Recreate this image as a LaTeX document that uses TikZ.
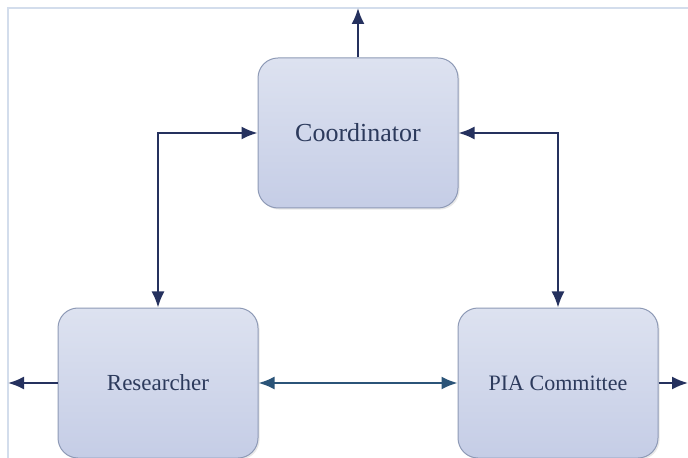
\documentclass[tikz,border=0pt]{standalone}
\usepackage{fontspec}
\setmainfont{Liberation Serif}
\usetikzlibrary{arrows.meta,shadows}
\definecolor{navy}{HTML}{25315E}
\definecolor{teal}{HTML}{2B5478}
\definecolor{boxtop}{HTML}{DDE2F0}
\definecolor{boxbot}{HTML}{C5CDE6}
\definecolor{boxline}{HTML}{8E9AB6}
\definecolor{frameline}{HTML}{D3DDEC}
\definecolor{textcol}{HTML}{2C3A5C}
\tikzset{
	block/.style={draw=boxline, line width=0.5pt, rounded corners=10pt,
		top color=boxtop, bottom color=boxbot,
		minimum width=100pt, minimum height=75pt, text=textcol,
		drop shadow={shadow xshift=0.8pt, shadow yshift=-0.8pt, opacity=0.18}},
	link/.style={draw=navy, line width=1pt, -{Latex[length=8pt,width=6.5pt]}},
	twoway/.style={link, {Latex[length=8pt,width=6.5pt]}-{Latex[length=8pt,width=6.5pt]}}
}

\begin{document}
\begin{tikzpicture}[x={(0.5pt,0mm)},y={(0mm,-0.5pt)}]
	\useasboundingbox (0,0) rectangle (688,458);
	\draw[frameline, line width=1pt] (8,458) -- (8,8) -- (688,8);
	
	\node[block, font=\fontsize{13}{15}\selectfont] (coord) at (358,133) {Coordinator};
	\node[block, font=\fontsize{11.5}{14}\selectfont] (res) at (158,383) {Researcher};
	\node[block, font=\fontsize{11}{14}\selectfont] (pia) at (558,383) {PIA Committee};
	
	\coordinate (up) at (358,8);
	\coordinate (outl) at (8,383);
	\coordinate (outr) at (688,383);
	
	\draw[link] (coord.north) -- (up);
	\draw[twoway] (coord.west) -| (res.north);
	\draw[twoway] (coord.east) -| (pia.north);
	\draw[twoway, draw=teal, fill=teal] (res.east) -- (pia.west);
	\draw[link] (res.west) -- (outl);
	\draw[link] (pia.east) -- (outr);
	
\end{tikzpicture}
\end{document}
